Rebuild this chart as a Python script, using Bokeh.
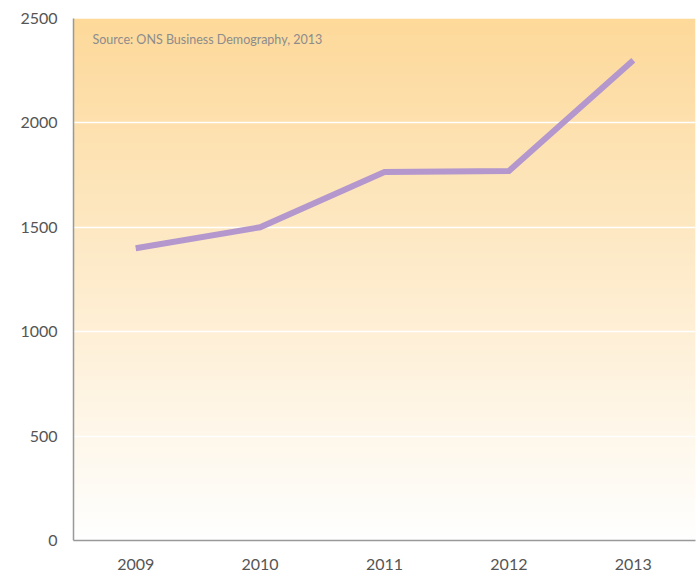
import numpy as np
from bokeh.plotting import figure
from bokeh.models import Range1d, FixedTicker, Label
from bokeh.embed import file_html
from bokeh.resources import INLINE

years = ["2009", "2010", "2011", "2012", "2013"]
births = [1400, 1500, 1765, 1770, 2300]
y_ticks = [0, 500, 1000, 1500, 2000, 2500]
source_text = "Source: ONS Business Demography, 2013"

FONT = "Lato"
xs = [i + 0.5 for i in range(len(years))]

p = figure(width=698, height=572, output_backend="svg", toolbar_location=None,
           x_range=Range1d(0, len(years)), y_range=Range1d(0, 2500),
           min_border_left=73, min_border_right=3, min_border_top=18, min_border_bottom=32)
p.outline_line_color = None
p.background_fill_color = "white"
p.border_fill_color = "white"

# vertical gradient background
n = 256
top = np.array([253, 217, 154])
bot = np.array([255, 255, 255])
t = np.linspace(0, 1, n)[:, None]  # row 0 = bottom
cols = (bot * (1 - t) + top * t).astype(np.uint32)
img = np.empty((n, 2), dtype=np.uint32)
view = img.view(dtype=np.uint8).reshape((n, 2, 4))
for j in range(2):
    view[:, j, 0] = cols[:, 0]
    view[:, j, 1] = cols[:, 1]
    view[:, j, 2] = cols[:, 2]
    view[:, j, 3] = 255
r_img = p.image_rgba(image=[img], x=0, y=0, dw=len(years), dh=2500)
r_img.level = "image"

p.line(xs, births, line_color="#b497cd", line_width=6, line_cap="butt", line_join="miter")

# axes
p.xaxis.ticker = FixedTicker(ticks=xs)
p.xaxis.major_label_overrides = {x: y for x, y in zip(xs, years)}
p.yaxis.ticker = FixedTicker(ticks=y_ticks)
for ax in (p.xaxis[0], p.yaxis[0]):
    ax.axis_line_color = "#999999"
    ax.axis_line_width = 1.5
    ax.major_tick_line_color = None
    ax.minor_tick_line_color = None
    ax.major_label_text_font = FONT
    ax.major_label_text_font_size = "16px"
    ax.major_label_text_color = "#555555"
p.xaxis.major_label_standoff = 12
p.yaxis.major_label_standoff = 10

p.xgrid.grid_line_color = None
p.ygrid.ticker = FixedTicker(ticks=y_ticks)
p.ygrid.grid_line_color = "white"
p.ygrid.grid_line_width = 1.5

p.add_layout(Label(x=0, y=2500, x_offset=19, y_offset=-13, text=source_text,
                   text_font=FONT, text_font_size="12.5px", text_color="#8c8c8c",
                   text_baseline="top"))

open("out.html", "w").write(file_html(p, INLINE))
